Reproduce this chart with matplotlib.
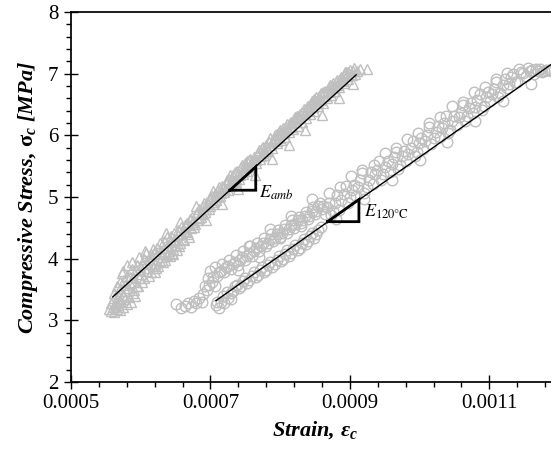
import matplotlib
matplotlib.use("Agg")
import matplotlib.pyplot as plt
from matplotlib.ticker import FixedLocator, FormatStrFormatter
import numpy as np

# strain values are written in units of 1e-4
amb_strain_e4 = [
    5.55, 5.57, 5.60, 5.62, 5.64, 5.66, 5.68, 5.70, 5.72, 5.75, 5.78, 5.80, 5.83, 5.86, 5.89, 5.92,
    5.62, 5.66, 5.70, 5.72, 5.75, 5.78, 5.80, 5.82, 5.85, 5.88, 5.90, 5.93, 5.95, 5.98, 6.00, 6.03,
    6.05, 6.08, 6.10, 6.13, 6.15, 6.18, 6.20, 6.23, 6.25, 6.28, 6.30, 6.33, 6.35, 6.38, 6.40, 6.43,
    6.45, 6.48, 6.50, 6.53, 6.55, 6.58, 6.60,
    6.63, 6.66, 6.68, 6.71, 6.74, 6.76, 6.79, 6.82, 6.84, 6.87, 6.90, 6.92, 6.95, 6.98, 7.00, 7.03,
    7.06, 7.08, 7.11, 7.14, 7.16, 7.19, 7.22, 7.25, 7.27, 7.30, 7.33, 7.36, 7.38, 7.41, 7.44, 7.47,
    7.50, 7.53, 7.56, 7.59, 7.62, 7.65, 7.68, 7.71, 7.74, 7.77,
    7.80, 7.83, 7.86, 7.89, 7.92, 7.95, 7.98, 8.01, 8.04, 8.07, 8.10, 8.13, 8.16, 8.19, 8.22, 8.25,
    8.28, 8.31, 8.34, 8.37, 8.40, 8.43, 8.46, 8.49, 8.52, 8.55, 8.58, 8.61, 8.64, 8.67, 8.70, 8.73,
    8.76, 8.79, 8.82, 8.85, 8.88, 8.91, 8.94, 8.97, 9.00, 9.03, 9.06, 9.10, 9.14, 9.24,
    5.58, 5.61, 5.63, 5.67, 5.69, 5.71, 5.74, 5.76, 5.79, 5.81, 5.84, 5.87, 5.89, 5.91, 5.94, 5.97,
    5.99, 6.02, 6.04, 6.07, 6.09, 6.12, 6.14, 6.17, 6.19, 6.22, 6.24, 6.27, 6.29, 6.32, 6.34, 6.37,
    6.39, 6.42, 6.44, 6.47, 6.49, 6.52, 6.54, 6.57, 6.59, 6.62,
    6.64, 6.67, 6.70, 6.72, 6.75, 6.78, 6.81, 6.83, 6.86, 6.89, 6.91, 6.94, 6.97, 6.99, 7.02, 7.05,
    7.07, 7.10, 7.13, 7.15, 7.18, 7.21, 7.24, 7.26, 7.29, 7.32, 7.35, 7.37, 7.40, 7.43, 7.46, 7.48,
    7.51, 7.54, 7.57, 7.60, 7.63, 7.66, 7.69, 7.72, 7.75, 7.78,
    7.81, 7.84, 7.87, 7.90, 7.93, 7.96, 7.99, 8.02, 8.05, 8.08, 8.11, 8.14, 8.17, 8.20, 8.23, 8.26,
    8.29, 8.32, 8.35, 8.38, 8.41, 8.44, 8.47, 8.50, 8.53, 8.56, 8.59, 8.62, 8.65, 8.68, 8.71, 8.74,
    8.77, 8.80, 8.83, 8.86, 8.89, 8.92, 8.95, 8.98, 9.01, 9.04, 9.08,
    5.73, 5.96, 6.06, 6.21, 6.36, 6.46, 6.56, 6.69, 6.80, 6.93, 7.04, 7.17, 7.28, 7.39, 7.52, 7.64,
    7.76, 7.88, 8.00, 8.12, 8.24, 8.36, 8.48, 8.60, 8.72, 8.84, 8.93, 9.05,
    6.15, 6.65, 7.45, 7.95, 8.55, 8.90,
]
amb_stress = [
    3.18, 3.15, 3.22, 3.14, 3.28, 3.19, 3.25, 3.16, 3.30, 3.22, 3.34, 3.26, 3.38, 3.30, 3.45, 3.40,
    3.45, 3.55, 3.62, 3.48, 3.80, 3.58, 3.90, 3.52, 3.70, 3.95, 3.62, 3.82, 3.55, 4.02, 3.75, 3.92,
    3.68, 4.10, 3.85, 3.98, 3.78, 4.15, 3.92, 4.08, 3.88, 4.25, 4.02, 4.18, 3.98, 4.35, 4.12, 4.28,
    4.10, 4.42, 4.22, 4.38, 4.20, 4.52, 4.32,
    4.45, 4.58, 4.40, 4.55, 4.68, 4.52, 4.72, 4.62, 4.80, 4.68, 4.85, 4.75, 4.92, 4.80, 4.98, 4.88,
    5.05, 4.95, 5.12, 5.02, 5.18, 5.08, 5.22, 5.12, 5.30, 5.20, 5.35, 5.25, 5.42, 5.30, 5.48, 5.38,
    5.55, 5.42, 5.60, 5.50, 5.65, 5.55, 5.72, 5.62, 5.80, 5.68,
    5.85, 5.74, 5.95, 5.80, 6.00, 5.88, 6.05, 5.92, 6.12, 5.98, 6.18, 6.05, 6.22, 6.10, 6.30, 6.15,
    6.35, 6.22, 6.42, 6.28, 6.48, 6.35, 6.55, 6.40, 6.62, 6.48, 6.68, 6.52, 6.72, 6.60, 6.78, 6.65,
    6.85, 6.72, 6.90, 6.78, 6.95, 6.85, 7.02, 6.92, 7.06, 6.98, 7.10, 7.04, 7.08, 7.08,
    3.28, 3.36, 3.22, 3.40, 3.32, 3.52, 3.41, 3.66, 3.47, 3.72, 3.60, 3.84, 3.70, 3.50, 3.90, 3.68,
    3.86, 3.62, 4.00, 3.80, 3.95, 3.72, 4.05, 3.88, 4.10, 3.85, 4.18, 3.96, 4.12, 3.94, 4.28, 4.06,
    4.22, 4.04, 4.36, 4.16, 4.32, 4.14, 4.46, 4.26, 4.40, 4.30,
    4.54, 4.44, 4.64, 4.50, 4.60, 4.56, 4.76, 4.66, 4.74, 4.72, 4.90, 4.80, 4.88, 4.86, 5.02, 4.92,
    5.00, 5.00, 5.16, 5.06, 5.14, 5.12, 5.28, 5.18, 5.26, 5.24, 5.40, 5.30, 5.38, 5.36, 5.52, 5.42,
    5.48, 5.48, 5.62, 5.54, 5.60, 5.60, 5.76, 5.66, 5.72, 5.74,
    5.78, 5.90, 5.84, 5.92, 5.94, 6.02, 5.96, 6.06, 6.04, 6.14, 6.10, 6.20, 6.14, 6.26, 6.22, 6.32,
    6.28, 6.38, 6.34, 6.46, 6.40, 6.52, 6.46, 6.56, 6.52, 6.64, 6.58, 6.70, 6.64, 6.74, 6.70, 6.80,
    6.76, 6.86, 6.82, 6.92, 6.88, 6.98, 6.96, 7.02, 7.00, 7.05, 7.00,
    3.76, 3.55, 4.13, 3.79, 4.41, 4.08, 4.59, 4.35, 4.86, 4.63, 5.09, 4.88, 5.36, 5.13, 5.58, 5.36,
    5.81, 5.61, 6.08, 5.84, 6.32, 6.09, 6.59, 6.33, 6.82, 6.60, 7.03, 6.84,
    4.07, 4.56, 5.41, 5.91, 6.52, 6.90,
]

hot_strain_e4 = [
    6.50, 6.58, 6.63, 6.68, 6.72, 6.76, 6.80, 6.84, 6.88, 6.90, 6.95, 6.98, 7.02, 7.00, 7.06, 7.08,
    7.12, 7.15, 7.20, 7.25, 7.30,
    7.10, 7.15, 7.20, 7.25, 7.30, 7.35, 7.40, 7.45, 7.50, 7.55, 7.60, 7.65, 7.70, 7.75, 7.80, 7.85,
    7.90, 7.95, 8.00, 8.05, 8.10, 8.15, 8.20, 8.25, 8.30, 8.35, 8.40, 8.45, 8.50, 8.55, 8.60,
    7.32, 7.38, 7.44, 7.50, 7.56, 7.62, 7.68, 7.74, 7.80, 7.86, 7.92, 7.98, 8.04, 8.10, 8.16, 8.22,
    8.28, 8.34, 8.40, 8.46, 8.52, 8.58,
    8.65, 8.70, 8.76, 8.82, 8.88, 8.94, 9.00, 9.06, 9.12, 9.18, 9.24, 9.30, 9.36, 9.42, 9.48, 9.54,
    9.60, 9.66, 9.72, 9.78, 9.84, 9.90, 9.96, 10.02, 10.08, 10.14, 10.20, 10.26, 10.32, 10.38, 10.44,
    10.50, 10.56, 10.62, 10.68, 10.74, 10.80, 10.86, 10.92, 10.98, 11.04, 11.10, 11.16, 11.22, 11.28,
    11.34, 11.40, 11.46, 11.52, 11.58, 11.64, 11.70, 11.76, 11.82, 11.88,
    6.92, 6.97, 7.03, 7.07, 7.12, 7.17, 7.22, 7.27, 7.32, 7.37, 7.42, 7.47, 7.52, 7.57, 7.62, 7.67,
    7.72, 7.77, 7.82, 7.87, 7.92, 7.97, 8.02, 8.07, 8.12, 8.17, 8.22, 8.27, 8.32, 8.37, 8.42, 8.47,
    8.52, 8.57, 8.62,
    7.10, 7.18, 7.24, 7.29, 7.35, 7.41, 7.47, 7.53, 7.59, 7.65, 7.71, 7.77, 7.83, 7.89, 7.95, 8.01,
    8.07, 8.13, 8.19, 8.25, 8.31, 8.37, 8.43, 8.49, 8.55,
    8.67, 8.73, 8.79, 8.85, 8.91, 8.97, 9.03, 9.09, 9.15, 9.21, 9.27, 9.33, 9.39, 9.45, 9.51, 9.57,
    9.63, 9.69, 9.75, 9.81, 9.87, 9.93, 9.99, 10.05, 10.11, 10.17, 10.23, 10.29, 10.35, 10.41, 10.47,
    10.53, 10.59, 10.65, 10.71, 10.77, 10.83, 10.89, 10.95, 11.01, 11.07, 11.13, 11.19, 11.25, 11.31,
    11.37, 11.43, 11.49, 11.55, 11.61, 11.67, 11.73, 11.79, 11.85,
    8.70, 8.86, 9.02, 9.18, 9.34, 9.50, 9.66, 9.82, 9.98, 10.14, 10.30, 10.46, 10.62, 10.78, 10.94,
    11.10, 11.26,
    8.80, 9.20, 9.60, 10.00, 10.40, 10.80, 11.20, 11.60,
    7.40, 7.70, 8.00, 8.30, 7.55, 7.85, 8.15, 8.45,
]
hot_stress = [
    3.26, 3.20, 3.24, 3.28, 3.22, 3.32, 3.28, 3.36, 3.30, 3.42, 3.50, 3.58, 3.62, 3.80, 3.55, 3.25,
    3.20, 3.30, 3.28, 3.36, 3.34,
    3.72, 3.80, 3.78, 3.88, 3.84, 3.95, 3.90, 4.02, 3.98, 4.10, 4.05, 4.18, 4.12, 4.25, 4.20, 4.32,
    4.28, 4.40, 4.35, 4.48, 4.42, 4.55, 4.50, 4.62, 4.58, 4.70, 4.65, 4.78, 4.72, 4.85, 4.80,
    3.48, 3.58, 3.56, 3.68, 3.66, 3.78, 3.74, 3.86, 3.82, 3.95, 3.92, 4.04, 4.00, 4.14, 4.10, 4.22,
    4.18, 4.32, 4.28, 4.42, 4.40, 4.52,
    4.72, 4.91, 4.78, 5.04, 4.95, 5.18, 5.00, 5.20, 5.16, 5.39, 5.16, 5.41, 5.37, 5.58, 5.37, 5.58,
    5.53, 5.73, 5.52, 5.75, 5.70, 5.91, 5.73, 5.96, 5.91, 6.14, 5.95, 6.15, 6.12, 6.31, 6.09,
    6.32, 6.29, 6.49, 6.31, 6.53, 6.46, 6.67, 6.47, 6.70, 6.67, 6.86, 6.69, 6.91, 6.84,
    6.99, 6.86, 7.02, 6.97, 7.05, 7.00, 7.05, 7.02, 7.06, 7.04,
    3.55, 3.68, 3.70, 3.86, 3.78, 3.92, 3.86, 3.98, 3.92, 4.06, 3.98, 4.12, 4.04, 4.20, 4.12, 4.26,
    4.20, 4.34, 4.26, 4.40, 4.34, 4.46, 4.42, 4.54, 4.48, 4.62, 4.56, 4.68, 4.62, 4.76, 4.70, 4.84,
    4.78, 4.90, 4.86,
    3.30, 3.40, 3.46, 3.44, 3.56, 3.52, 3.64, 3.60, 3.72, 3.70, 3.82, 3.78, 3.90, 3.86, 3.98, 3.96,
    4.08, 4.04, 4.16, 4.14, 4.26, 4.24, 4.36, 4.34, 4.46,
    4.83, 4.71, 4.90, 4.79, 5.05, 4.90, 5.12, 5.02, 5.27, 5.07, 5.28, 5.21, 5.44, 5.28, 5.49, 5.40,
    5.65, 5.46, 5.66, 5.59, 5.80, 5.67, 5.88, 5.78, 6.01, 5.86, 6.05, 5.97, 6.20, 6.03, 6.24,
    6.17, 6.37, 6.24, 6.45, 6.36, 6.58, 6.41, 6.62, 6.55, 6.75, 6.62, 6.81, 6.76, 6.95,
    6.87, 7.08, 7.01, 7.10, 7.06, 7.07, 7.08, 7.05, 7.06,
    5.06, 5.16, 5.34, 5.43, 5.52, 5.71, 5.79, 5.94, 6.03, 6.20, 6.30, 6.47, 6.54, 6.71, 6.79,
    6.92, 7.01,
    4.64, 4.97, 5.27, 5.60, 5.90, 6.24, 6.55, 6.83,
    3.82, 4.03, 4.33, 4.53, 4.21, 4.48, 4.69, 4.96,
]

# linear fits (end points)
fit_amb_strain = [0.000560, 0.000909]
fit_amb_stress = [3.38, 6.98]
fit_hot_strain = [0.000708, 0.001190]
fit_hot_stress = [3.32, 7.16]

# slope triangles
tri_amb_strain = [0.000728, 0.000765, 0.000765, 0.000728]
tri_amb_stress = [5.11, 5.11, 5.49, 5.11]
tri_hot_strain = [0.000868, 0.000913, 0.000913, 0.000868]
tri_hot_stress = [4.60, 4.60, 4.96, 4.60]

x_major = [0.0005, 0.0007, 0.0009, 0.0011]

plt.rcParams["font.family"] = ["Liberation Serif", "DejaVu Serif"]
plt.rcParams["mathtext.fontset"] = "custom"
plt.rcParams["mathtext.rm"] = "Liberation Serif"
plt.rcParams["mathtext.it"] = "Liberation Serif:italic:bold"
plt.rcParams["mathtext.bf"] = "Liberation Serif:bold"

GREY = "#BFBFBF"

fig = plt.figure(figsize=(5.51, 4.51), dpi=100)
ax = fig.add_axes([71 / 551, 69 / 451, 488 / 551, 370 / 451])

ax.plot(np.array(amb_strain_e4) * 1e-4, amb_stress, linestyle="none", marker="^",
        markersize=7.2, markerfacecolor="none", markeredgecolor=GREY, markeredgewidth=1.0)
ax.plot(np.array(hot_strain_e4) * 1e-4, hot_stress, linestyle="none", marker="o",
        markersize=7.6, markerfacecolor="none", markeredgecolor=GREY, markeredgewidth=1.0)

ax.plot(fit_amb_strain, fit_amb_stress, color="black", lw=1.0)
ax.plot(fit_hot_strain, fit_hot_stress, color="black", lw=1.0)

ax.plot(tri_amb_strain, tri_amb_stress, color="black", lw=2.0, solid_joinstyle="miter")
ax.plot(tri_hot_strain, tri_hot_stress, color="black", lw=2.0, solid_joinstyle="miter")

ax.text(0.000770, 5.07, r"$E_{amb}$", fontsize=13, va="center", ha="left", math_fontfamily="stix")
ax.text(0.000920, 4.76, r"$E_{\mathrm{120°C}}$", fontsize=13, va="center", ha="left",
        math_fontfamily="stix")

ax.set_xlim(0.0005, 0.0012)
ax.set_ylim(2, 8)
ax.xaxis.set_major_locator(FixedLocator(x_major))
ax.xaxis.set_minor_locator(FixedLocator(np.arange(0.0005, 0.00121, 0.00004)))
ax.xaxis.set_major_formatter(FormatStrFormatter("%.4f"))
ax.yaxis.set_major_locator(FixedLocator(np.arange(2, 8.1, 1)))
ax.yaxis.set_minor_locator(FixedLocator(np.arange(2, 8.01, 0.2)))

ax.tick_params(which="major", direction="inout", length=10, width=1.0, labelsize=15, pad=4)
ax.tick_params(which="minor", direction="out", length=3.5, width=1.0)
ax.tick_params(top=False, right=False)

for side in ("left", "bottom", "top"):
    ax.spines[side].set_linewidth(1.25)
ax.spines["right"].set_visible(False)

ax.set_ylabel(r"Compressive Stress, $\mathbf{\sigma}_{c}$ [MPa]", fontsize=16,
              fontweight="bold", fontstyle="italic", labelpad=6)
ax.set_xlabel(r"Strain, $\varepsilon_{c}$", fontsize=16, fontweight="bold",
              fontstyle="italic", labelpad=4)

fig.savefig("out.png", dpi=100)
plt.close(fig)
